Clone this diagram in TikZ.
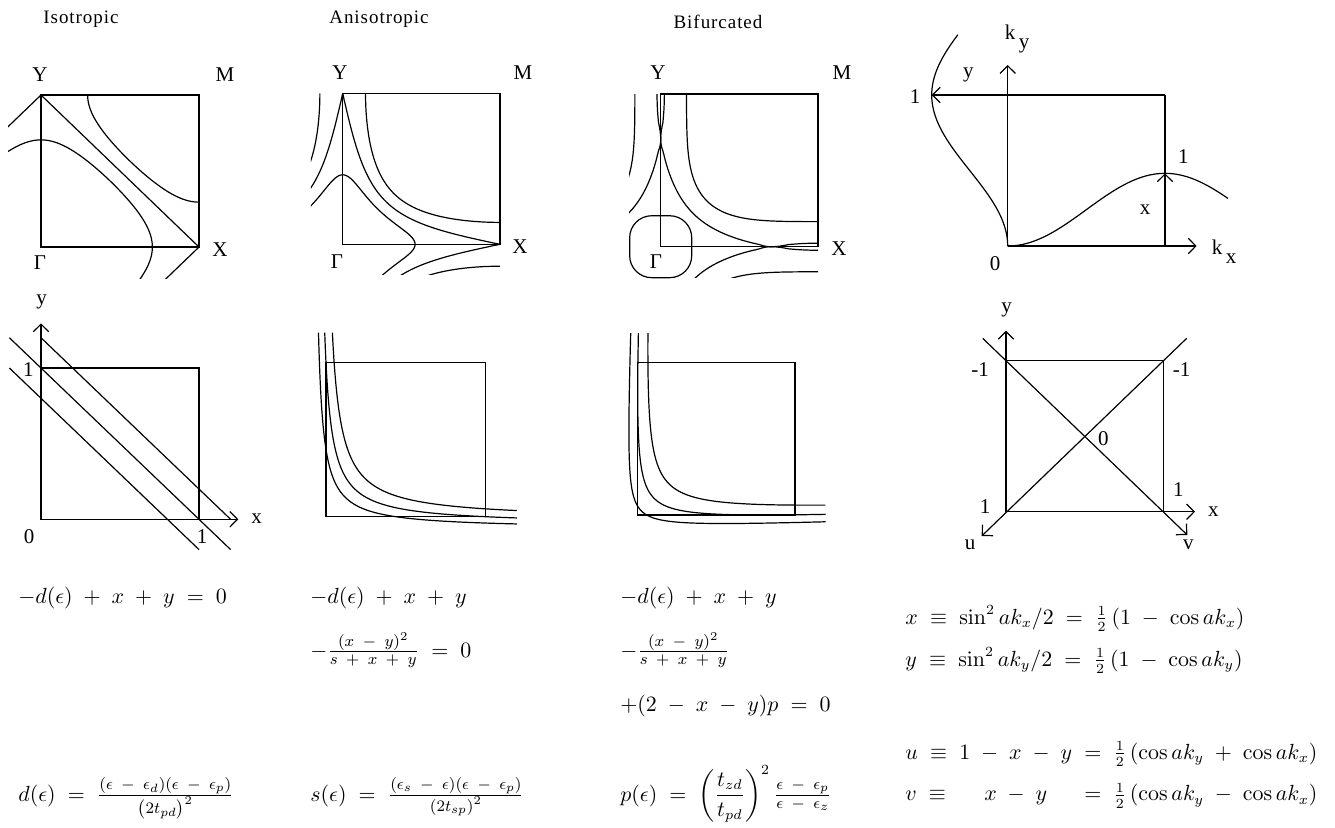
\documentclass[tikz,border=0pt]{standalone}
\usepackage{amsmath}
\usepackage[no-math]{fontspec}
\setmainfont{Liberation Serif}
\usetikzlibrary{arrows.meta}
\newcommand{\smpart}[1]{\text{\fontsize{8.5}{9}\selectfont$#1$}}
\newcommand{\widemath}{\medmuskip=9mu\relax\thickmuskip=10mu\relax}

\begin{document}
\begin{tikzpicture}[x=0.5pt, y=-0.5pt,
    declare function={
      isok(\U,\D)=acos(max(-1,min(1,2-2*\D-cos(\U))));
      anly(\X,\D)=(\D*0.5625+\X*(\D-0.5625))/(4*\X+0.5625-\D);
      anik(\U,\D)=acos(max(-1,min(1,1-2*anly((1-cos(\U))/2,\D))));
      bifb(\X,\D)=3.73354*\X+0.66503-\D;
      bifc(\X,\D)=0.13323*\X*\X-(0.66503-\D)*\X+(\D-0.26646)*0.45984;
      bify(\X,\D)=2*bifc(\X,\D)/(bifb(\X,\D)+sqrt(max(0,bifb(\X,\D)^2-0.53292*bifc(\X,\D))));
      bifk(\U,\D)=acos(max(-1,min(1,1-2*bify((1-cos(\U))/2,\D))));
    },
    curve/.style={line width=0.6pt, samples=60},
    ax/.style={line width=0.6pt, -{Straight Barb[length=3.8pt,width=7.7pt]}},
    lbl/.style={inner sep=0pt, font=\fontsize{10.5}{12}\selectfont},
    ttl/.style={inner sep=0pt, font=\fontsize{9.5}{11}\selectfont\addfontfeature{LetterSpace=5}},
    eqn/.style={anchor=base west, inner sep=0pt, font=\fontsize{10.5}{12}\selectfont}]
  \useasboundingbox (0,0) rectangle (1335,827);

  % Titles
  \node[ttl] (tiso) at (81,19) {Isotropic};
  \node[ttl] (tani) at (379,19) {Anisotropic};
  \node[ttl] (tbif) at (718,22) {Bifurcated};

  % Isotropic zone
  \begin{scope}[shift={(20.5pt,-123.5pt)}, x=0.43889pt, y=0.42222pt]
    \begin{scope}
      \clip (-37.5,-37) rectangle (180,180);
      \foreach \sx/\sy in {1/1,-1/1,1/-1}{
        \begin{scope}[xscale=\sx, yscale=\sy]
          \draw[curve] (0,180) -- (180,0);
          \draw[curve] plot[domain=0:78.46] ({isok(\x,0.8)},\x)
            -- plot[domain=78.46:0] (\x,{isok(\x,0.8)});
          \draw[curve] plot[domain=180:101.54] ({isok(\x,1.2)},\x)
            -- plot[domain=101.54:180] (\x,{isok(\x,1.2)});
        \end{scope}}
    \end{scope}
    \draw[curve] (0,0) rectangle (180,180);
  \end{scope}
  \node[lbl] (yiso) at (40,75) {Y};
  \node[lbl] (miso) at (225,75) {M};
  \node[lbl] (xiso) at (220,250) {X};
  \node[lbl] (giso) at (40,263) {Γ};

  % Anisotropic zone
  \begin{scope}[shift={(171.35pt,-122.15pt)}, x=0.43694pt, y=0.41944pt]
    \begin{scope}
      \clip (-36.5,-36.5) rectangle (180,180);
      \foreach \sx/\sy in {1/1,-1/1,1/-1}{
        \begin{scope}[xscale=\sx, yscale=\sy]
          \draw[curve] plot[domain=0:41.08] ({anik(\x,0.2462)},\x)
            -- plot[domain=41.08:0] (\x,{anik(\x,0.2462)});
          \draw[curve] plot[domain=0:50.21] ({anik(\x,0.36)},\x)
            -- plot[domain=50.21:0] (\x,{anik(\x,0.36)});
          \draw[curve] plot[domain=180:59.53] ({anik(\x,0.4929)},\x)
            -- plot[domain=59.53:180] (\x,{anik(\x,0.4929)});
        \end{scope}}
    \end{scope}
    \draw[curve] (0,0) rectangle (180,180);
  \end{scope}
  \node[lbl] (yani) at (340,73) {Y};
  \node[lbl] (mani) at (523,73) {M};
  \node[lbl] (xani) at (520,247) {X};
  \node[lbl] (gani) at (337,262) {Γ};

  % Bifurcated zone
  \begin{scope}[shift={(330.35pt,-123.35pt)}, x=0.43694pt, y=0.42417pt]
    \begin{scope}
      \clip (-36,-36) rectangle (180,180);
      \foreach \sx/\sy in {1/1,-1/1,1/-1}{
        \begin{scope}[xscale=\sx, yscale=\sy]
          \draw[curve, samples=120] plot[domain=180:38.17] ({bifk(\x,0.45187)},\x)
            -- plot[domain=38.17:180] (\x,{bifk(\x,0.45187)});
          \draw[curve] plot[domain=180:53.4] ({bifk(\x,0.6164)},\x)
            -- plot[domain=53.4:180] (\x,{bifk(\x,0.6164)});
        \end{scope}}
    \end{scope}
    \draw[curve] (0,0) rectangle (180,180);
    \draw[curve, rounded corners=11pt] (-35.5,-36.5) rectangle (35.5,36.5);
  \end{scope}
  \node[lbl] (ybif) at (658,73) {Y};
  \node[lbl] (mbif) at (842,73) {M};
  \node[lbl] (xbif) at (839,249) {X};
  \node[lbl] (gbif) at (656,262) {Γ};

  % x-y plane, isotropic
  \coordinate (qo) at (41,519.3);
  \coordinate (qy) at (41,323.3);
  \coordinate (qx) at (238.3,519.3);
  \draw[ax] (qo) -- (qy);
  \draw[ax] (qo) -- (qx);
  \begin{scope}[shift={(20.5pt,-259.65pt)}, x=79pt, y=75.65pt]
    \draw[curve] (0,0) rectangle (1,1);
    \draw[curve] (-0.2,1) -- (1,-0.2);
    \draw[curve] (-0.2,1.2) -- (1.2,-0.2);
    \draw[curve] (0,1.2) -- (1.2,0);
  \end{scope}
  \node[lbl] (qylbl) at (41.7,302) {y};
  \node[lbl] (qxlbl) at (256.7,519) {x};
  \node[lbl] (qone) at (28.3,370) {1};
  \node[lbl] (qzero) at (29,537) {0};
  \node[lbl] (qonex) at (202,537) {1};

  % x-y plane, anisotropic
  \begin{scope}[shift={(163pt,-258.35pt)}, x=79.85pt, y=77pt]
    \draw[curve] (0,0) rectangle (1,1);
    \foreach \dd/\kk in {0.2462/0.1231, 0.36/0.18, 0.4929/0.24645}{
      \draw[curve] plot[domain=1.195:\kk] ({anly(\x,\dd)},\x)
        -- plot[domain=\kk:1.195] (\x,{anly(\x,\dd)});}
  \end{scope}

  % x-y plane, bifurcated
  \begin{scope}[shift={(318.85pt,-257.5pt)}, x=78.65pt, y=76.15pt]
    \draw[curve] (0,0) rectangle (1,1);
    \foreach \dd/\kk in {0.31/0.02512, 0.45187/0.10695, 0.6164/0.20187}{
      \draw[curve, samples=120] plot[domain=1.195:\kk] ({bify(\x,\dd)},\x)
        -- plot[domain=\kk:1.195] (\x,{bify(\x,\dd)});}
  \end{scope}

  % k plane with x and y
  \coordinate (ro) at (1007.7,246);
  \coordinate (rkx) at (1196.7,246);
  \coordinate (rky) at (1007.7,65);
  \coordinate (rM) at (1165,95);
  \coordinate (rX) at (1165,246);
  \coordinate (rtipy) at (931.7,95);
  \coordinate (rtipx) at (1165,173.3);
  \draw[ax] (ro) -- (rkx);
  \draw[ax] (ro) -- (rky);
  \draw[curve] (rX) -- (rM);
  \draw[ax] (rM) -- (rtipy);
  \draw[ax] (rX) -- (rtipx);
  \begin{scope}[shift={(503.85pt,-123pt)}, x=0.5pt, y=0.5pt]
    \draw[curve] plot[domain=0:252, smooth] ({\x/180*157.3},{72.7*sin(\x/2)^2});
    \draw[curve] plot[domain=0:252, smooth] ({-76*sin(\x/2)^2},{\x/180*151});
  \end{scope}
  \node[lbl] (kylbl) at (1017,39) {k\,\raisebox{-0.9ex}{y}};
  \node[lbl] (kxlbl) at (1224,252) {k\,\raisebox{-0.9ex}{x}};
  \node[lbl] (rylbl) at (968.3,75) {y};
  \node[lbl] (rone) at (915,96.7) {1};
  \node[lbl] (ronex) at (1183.3,156.7) {1};
  \node[lbl] (rxlbl) at (1145,210) {x};
  \node[lbl] (rzero) at (995,263.3) {0};

  % x-y plane with u and v
  \coordinate (so) at (1006,511.7);
  \coordinate (sy) at (1006,330.7);
  \coordinate (sx) at (1195,511.7);
  \coordinate (sM) at (1163.3,360.7);
  \coordinate (vstart) at (982.7,338.3);
  \coordinate (vtip) at (1187.3,535);
  \coordinate (ustart) at (1186.7,338.3);
  \coordinate (utip) at (981.7,536);
  \draw[curve] (so) rectangle (sM);
  \draw[ax] (so) -- (sy);
  \draw[ax] (so) -- (sx);
  \draw[ax] (vstart) -- (vtip);
  \draw[ax] (ustart) -- (utip);
  \node[lbl] (sylbl) at (1006.7,310) {y};
  \node[lbl] (sxlbl) at (1213.3,511.7) {x};
  \node[lbl] (sulbl) at (970,545) {u};
  \node[lbl] (svlbl) at (1188.3,545) {v};
  \node[lbl] (smone) at (980,370) {-1};
  \node[lbl] (smonex) at (1181.7,370) {-1};
  \node[lbl] (szero) at (1103.3,438.3) {0};
  \node[lbl] (sone) at (985,506.7) {1};
  \node[lbl] (sonex) at (1178.3,490) {1};

  % Equations
  \node[eqn] (eqa1) at (18,603) {\widemath$-d(\epsilon)+x+y=0$};
  \node[eqn] (eqb1) at (310,603) {\widemath$-d(\epsilon)+x+y$};
  \node[eqn] (eqb2) at (310,657) {\widemath$-\frac{\smpart{(x-y)^2}}{\smpart{s+x+y}}=0$};
  \node[eqn] (eqc1) at (620,603) {\widemath$-d(\epsilon)+x+y$};
  \node[eqn] (eqc2) at (620,657) {\widemath$-\frac{\smpart{(x-y)^2}}{\smpart{s+x+y}}$};
  \node[eqn] (eqc3) at (620,711) {\widemath$+(2-x-y)p=0$};
  \node[eqn] (eqa4) at (18,801)
    {\widemath$d(\epsilon)=\frac{\smpart{(\epsilon-\epsilon_d)(\epsilon-\epsilon_p)}}{\smpart{\left(2t_{pd}\right)^2}}$};
  \node[eqn] (eqb4) at (310,801)
    {\widemath$s(\epsilon)=\frac{\smpart{(\epsilon_s-\epsilon)(\epsilon-\epsilon_p)}}{\smpart{\left(2t_{sp}\right)^2}}$};
  \node[eqn] (eqc4) at (620,801)
    {\widemath$p(\epsilon)=\left(\dfrac{t_{zd}}{t_{pd}}\right)^{2}\frac{\smpart{\epsilon-\epsilon_p}}{\smpart{\epsilon-\epsilon_z}}$};
  \node[eqn] (eqx) at (905,624) {\widemath$x\equiv\sin^2 ak_x/2=\tfrac12\,(1-\cos ak_x)$};
  \node[eqn] (eqy) at (905,666) {\widemath$y\equiv\sin^2 ak_y/2=\tfrac12\,(1-\cos ak_y)$};
  \node[eqn, anchor=west] (equv) at (905,775)
    {\widemath$\begin{array}{@{}l@{}c@{}l@{}}
      u\equiv{} & 1-x-y & {}=\tfrac12\,(\cos ak_y+\cos ak_x)\\[8.5pt]
      v\equiv{} & x-y & {}=\tfrac12\,(\cos ak_y-\cos ak_x)
    \end{array}$};
\end{tikzpicture}
\end{document}
